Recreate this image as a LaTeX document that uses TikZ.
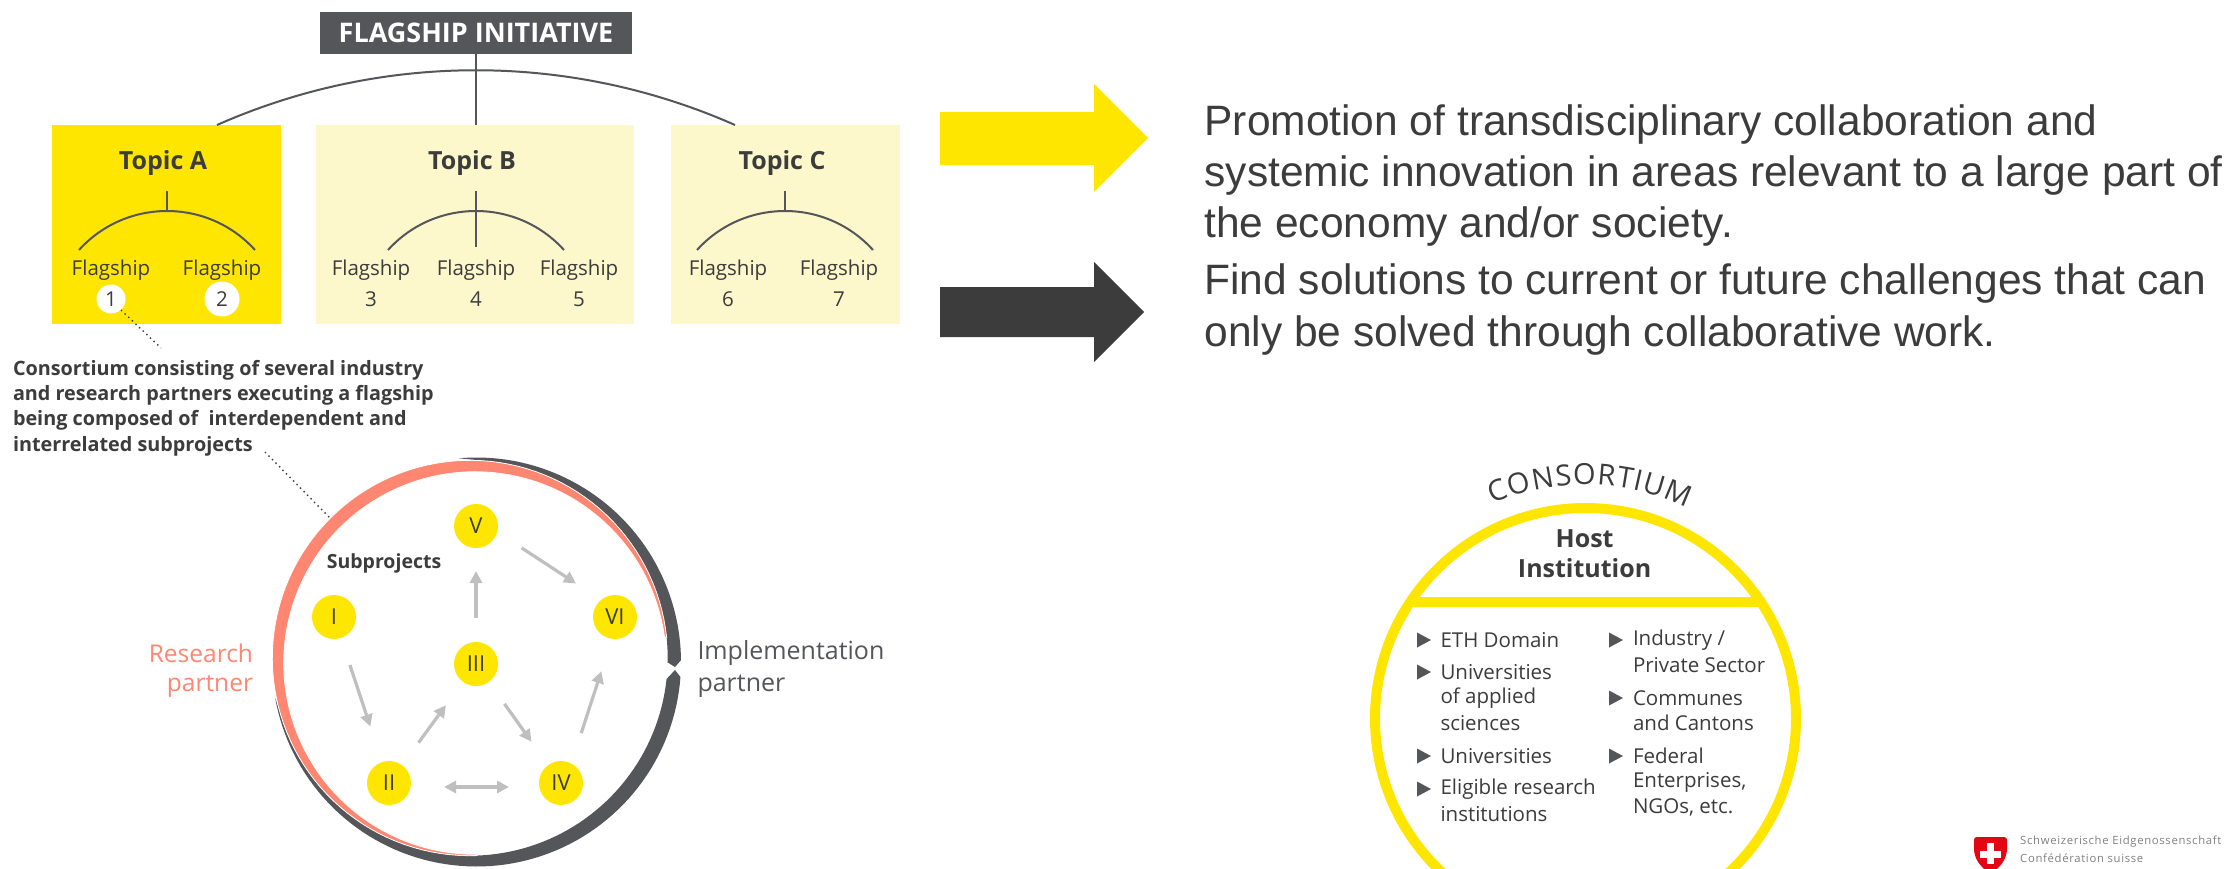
\documentclass[tikz,border=0pt]{standalone}
\usepackage{fontspec}
\usetikzlibrary{arrows.meta,decorations.text,calc}
\setmainfont{Open Sans}
\newfontfamily\arialf{Liberation Sans}
\newfontfamily\logof[LetterSpace=6]{Open Sans}
\newcommand{\fsz}[1]{\fontsize{#1}{#1}\selectfont}
\definecolor{ylw}{HTML}{FFE600}
\definecolor{pale}{HTML}{FDF7CC}
\definecolor{slate}{HTML}{54565A}
\definecolor{ink}{HTML}{3C3C3C}
\definecolor{salmon}{HTML}{FF8772}
\definecolor{lgrey}{HTML}{BFBFBF}
\definecolor{swissred}{HTML}{E30613}
\tikzset{
  tbox/.style={inner sep=0pt,outer sep=0pt,minimum height=199pt},
  lbl/.style={inner sep=0pt,outer sep=0pt,text=ink},
  topiclbl/.style={lbl,font=\bfseries\fsz{25}},
  fshiplbl/.style={lbl,font=\fsz{20.5}},
  numcirc/.style={circle,fill=white,inner sep=0pt,outer sep=0pt,text=ink,font=\fsz{20.5}},
  subnode/.style={circle,fill=ylw,inner sep=0pt,outer sep=0pt,minimum size=44pt,text=ink,font=\fsz{22}},
  flowarrow/.style={draw=lgrey,line width=3.2pt,-{Triangle[length=12pt,width=12pt]}},
  archline/.style={draw=slate,line width=2pt},
  dotline/.style={draw=ink,line width=1.4pt,dash pattern=on 1.4pt off 3.6pt},
  bigtext/.style={inner sep=0pt,outer sep=0pt,anchor=base west,text=ink,font=\arialf\fsz{42.5}},
  listlbl/.style={inner sep=0pt,outer sep=0pt,anchor=west,text=ink,font=\fsz{20.5}},
  listtri/.style={fill=slate},
  partlbl/.style={inner sep=0pt,outer sep=0pt,font=\fsz{25}},
  logotext/.style={inner sep=0pt,anchor=west,text=black!50,font=\logof\fsz{11.3}},
}
\newcommand{\consf}{\fsz{29}}
\newcommand{\tri}[2]{\fill[listtri] (#1,#2-7.5) -- ++(14,7.5) -- ++(-14,7.5) -- cycle;}
\begin{document}
\begin{tikzpicture}[x=1pt,y=-1pt]
\path[clip] (0,0) rectangle (2232,868);
\fill[white] (0,0) rectangle (2232,868);
% top box
\node[fill=slate,text=white,inner sep=0pt,outer sep=0pt,minimum width=312pt,minimum height=42pt,font=\bfseries\fsz{27}] (FI) at (476,33) {FLAGSHIP INITIATIVE};
\node[tbox,fill=ylw,minimum width=229pt] (TA) at (166.5,224.5) {};
\node[tbox,fill=pale,minimum width=318pt] (TB) at (475,224.5) {};
\node[tbox,fill=pale,minimum width=229pt] (TC) at (785.5,224.5) {};
\coordinate (bigL) at (217,125);
\coordinate (bigR) at (735,125);
\draw[archline] (FI.south) -- (FI.south |- TB.north);
\draw[archline] (bigL) .. controls (382,52) and (570,52) .. (bigR);
\node[topiclbl] (LA) at (163,163) {Topic A};
\node[topiclbl] (LB) at (472,163) {Topic B};
\node[topiclbl] (LC) at (782,163) {Topic C};
% small arches
\foreach \n/\cx/\ext in {a/167/211,b/476/247,c/785/211}{
  \coordinate (s\n) at (\cx,191);
  \coordinate (e\n) at (\cx,\ext);
  \coordinate (l\n) at (\cx-88,250);
  \coordinate (r\n) at (\cx+88,250);
  \draw[archline] (s\n) -- (e\n);
  \draw[archline] (l\n) .. controls ($(l\n)+(47,-52)$) and ($(r\n)+(-47,-52)$) .. (r\n);
}
\foreach \n/\x in {fa/111,fb/222,fc/371,fd/476,fe/579,ff/728,fg/839}{
  \node[fshiplbl] (\n) at (\x,270) {Flagship};
}
\node[numcirc,minimum size=29pt] (n1) at (111,299) {1};
\node[numcirc,minimum size=35pt] (n2) at (222,299) {2};
\foreach \n/\x/\t in {n3/371/3,n4/476/4,n5/579/5,n6/728/6,n7/839/7}{
  \node[lbl,font=\fsz{20.5}] (\n) at (\x,299) {\t};
}
\coordinate (d1a) at (121,310);
\coordinate (d1b) at (161,348);
\draw[dotline] (d1a) -- (d1b);
\foreach \t/\y in {Consortium consisting of several industry/370,and research partners executing a flagship/395,being composed of\ \ interdependent and/420,interrelated subprojects/446}{
  \node[lbl,anchor=west,font=\bfseries\fsz{19.8}] at (13,\y) {\t};
}
\coordinate (d2a) at (265,452);
\coordinate (d2b) at (330,518);
\draw[dotline] (d2a) -- (d2b);
% partner ring
\fill[slate]
  plot[domain=95:0.5,samples=60] ({476.5+204.5*cos(\x)},{662-204.5*sin(\x)})
  -- (675,667) -- (667,662)
  -- plot[domain=-1.2:85,samples=60] ({470+197.7*cos(\x)},{658-197.7*sin(\x)})
  -- cycle;
\fill[slate]
  plot[domain=-4.2:-170,samples=80] ({476.5+204.5*cos(\x)},{662-204.5*sin(\x)})
  -- plot[domain=-165:-6.1,samples=80] ({470+197.7*cos(\x)},{658-197.7*sin(\x)})
  -- (675,670) -- cycle;
\fill[salmon,draw=white,line width=0.8pt]
  plot[domain=6:272,samples=100] ({470+197.7*cos(\x)},{658-197.7*sin(\x)})
  -- plot[domain=270.6:7.8,samples=100] ({475+191.3*cos(\x)},{663-191.3*sin(\x)})
  -- cycle;
\node[subnode] (V) at (476,526) {V};
\node[subnode] (VI) at (615,617) {VI};
\node[subnode] (I) at (334,617) {I};
\node[subnode] (III) at (476,664) {III};
\node[subnode] (II) at (389,783) {II};
\node[subnode] (IV) at (561,783) {IV};
\node[lbl,font=\bfseries\fsz{19.5}] (SP) at (384,563) {Subprojects};
\draw[flowarrow,shorten <=28.6pt,shorten >=37.5pt] (I) -- (II);
\draw[flowarrow,shorten <=28pt,shorten >=29pt] (II) -- (III);
\draw[flowarrow,shorten <=24pt,shorten >=23pt] (III) -- (V);
\draw[flowarrow,shorten <=54.5pt,shorten >=46.6pt] ([yshift=8pt]V.center) -- ([yshift=8pt]VI.center);
\draw[flowarrow,shorten <=27pt,shorten >=28.8pt] (III) -- (IV);
\draw[flowarrow,shorten <=52.5pt,shorten >=57pt] ([xshift=4pt]IV.center) -- ([xshift=4pt]VI.center);
\draw[flowarrow,{Triangle[length=12pt,width=12pt]}-{Triangle[length=12pt,width=12pt]},shorten <=55pt,shorten >=52pt] ([yshift=-4pt]II.center) -- ([yshift=-4pt]IV.center);
\node[partlbl,anchor=east,text=salmon,font=\fsz{24.5}] at (253,653) {Research};
\node[partlbl,anchor=east,text=salmon,font=\fsz{24.5}] at (253,686) {partner};
\node[partlbl,anchor=west,text=slate] at (697.5,653) {Implementation};
\node[partlbl,anchor=west,text=slate] at (697.5,686) {partner};
% arrows
\fill[ylw] (940,112) -- (1094,112) -- (1094,84) -- (1148,138) -- (1094,192) -- (1094,165) -- (940,165) -- cycle;
\fill[ink] (940,287) -- (1094,287) -- (1094,262) -- (1144,312) -- (1094,362) -- (1094,337) -- (940,337) -- cycle;
\node[bigtext] at (1204.5,135) {Promotion of transdisciplinary collaboration and};
\node[bigtext] at (1204.5,186) {systemic innovation in areas relevant to a large part of};
\node[bigtext] at (1204.5,237) {the economy and/or society.};
\node[bigtext] at (1204.5,294) {Find solutions to current or future challenges that can};
\node[bigtext] at (1204.5,346) {only be solved through collaborative work.};
% consortium
\draw[ylw,line width=10pt] (1585.5,718.5) circle[radius=210.5pt];
\coordinate (barL) at (1408,602);
\coordinate (barR) at (1763,602);
\draw[ylw,line width=10pt] (barL) -- (barR);
\path[decorate,decoration={text along path,text align=fit to path,text={|\consf\color{ink}|CONSORTIUM}}]
  (1492.9,503.6) arc[start angle=113.3,end angle=64.3,radius=234pt];
\node[lbl,font=\bfseries\fsz{25}] (host) at (1584.6,539) {Host};
\node[lbl,font=\bfseries\fsz{25}] (inst) at (1584.6,568) {Institution};
\foreach \t/\y in {ETH Domain/640,Universities/672,of applied/698,sciences/723,Universities/756,Eligible research/789,institutions/814}{
  \node[listlbl] at (1440.5,\y) {\t};
}
\foreach \t/\y in {Industry \slash/640,Private Sector/665,Communes/698,and Cantons/723,Federal/756,{Enterprises,}/782,{NGOs, etc.}/807}{
  \node[listlbl] at (1633,\y) {\t};
}
\tri{1417}{640}\tri{1417}{672}\tri{1417}{756}\tri{1417}{789}
\tri{1609}{640}\tri{1609}{698}\tri{1609}{756}
% logo
\fill[swissred] (1977,837) -- (2004,837) .. controls (2006,837) and (2007,838) .. (2007,840) -- (2007,848) .. controls (2007,858) and (2002,866) .. (1990.5,874) .. controls (1979,866) and (1974,858) .. (1974,848) -- (1974,840) .. controls (1974,838) and (1975,837) .. (1977,837) -- cycle;
\fill[white] (1987,843) rectangle (1994,864);
\fill[white] (1980,850.5) rectangle (2001,857.5);
\node[logotext] at (2020,842) {Schweizerische Eidgenossenschaft};
\node[logotext] at (2020,858) {Confédération suisse};
\end{tikzpicture}
\end{document}
